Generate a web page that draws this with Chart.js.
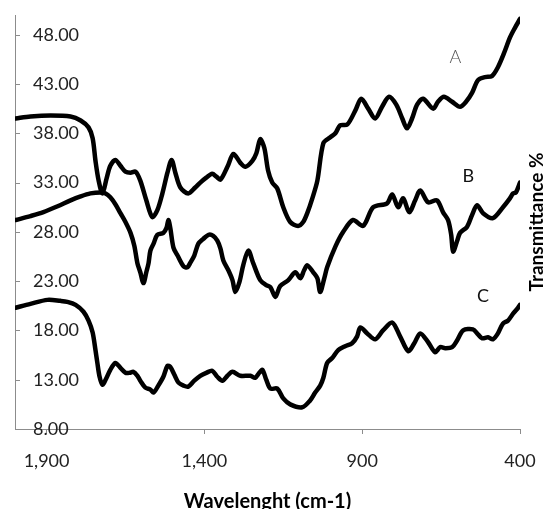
<!DOCTYPE html>
<html>
<head>
<meta charset="utf-8">
<script src="https://cdn.jsdelivr.net/npm/chart.js@4"></script>
<style>
  html, body { margin: 0; padding: 0; background: #fff; }
  #wrap { width: 543px; height: 509px; }
</style>
</head>
<body>
<div id="wrap"><canvas id="c" width="543" height="509"></canvas></div>
<script>
// ---- data (wavenumber in cm-1, transmittance %) ----
const waveA = [1998,1951,1887,1824,1792,1767,1754,1745,1735,1723,1710,1698,1682,1666,1650,1634,1618,1603,1584,1565,1549,1533,1517,1504,1492,1476,1451,1429,1413,1394,1375,1362,1349,1327,1308,1286,1270,1248,1235,1223,1210,1198,1185,1169,1150,1128,1103,1087,1074,1058,1042,1023,1001,985,970,947,922,903,881,859,837,815,792,773,758,742,726,707,675,660,641,615,590,571,552,533,511,489,470,451,432,416,400];
const transA = [39.5,39.7,39.8,39.7,39.3,38.6,37.5,35.2,33.2,31.9,33.4,34.7,35.3,34.7,34.1,34.0,34.1,33.2,31.2,29.5,30.2,31.9,34.0,35.3,34.0,32.5,31.9,32.5,33.0,33.5,33.9,33.6,33.3,34.6,35.9,35.0,34.6,35.2,36.0,37.4,36.5,34.2,33.0,32.4,30.5,29.0,28.6,29.0,29.9,31.4,33.2,37.0,37.6,38.0,38.8,38.9,40.3,41.5,40.5,39.5,40.7,41.7,40.9,39.5,38.5,39.5,40.9,41.5,40.5,41.2,41.7,41.2,40.7,41.2,42.1,43.4,43.7,43.8,44.7,46.1,47.7,48.7,49.6];

const waveB = [1998,1951,1910,1865,1824,1792,1761,1729,1713,1698,1682,1666,1650,1634,1622,1612,1603,1593,1584,1577,1571,1561,1549,1530,1520,1514,1508,1498,1485,1466,1454,1444,1432,1419,1403,1387,1372,1359,1349,1340,1324,1311,1302,1289,1277,1261,1245,1223,1204,1191,1175,1160,1134,1112,1096,1084,1074,1055,1042,1033,1020,1011,985,960,929,897,865,821,805,786,770,751,732,716,691,663,644,628,618,612,599,590,568,552,536,517,486,454,432,422,413,400];
const transB = [29.2,29.6,30.0,30.6,31.2,31.6,31.9,32.0,31.9,31.5,30.8,29.9,29.0,27.9,26.6,24.8,23.9,22.8,23.9,24.8,26.1,26.8,27.7,27.9,28.4,29.2,28.4,26.4,25.6,24.5,24.4,24.9,25.6,26.8,27.3,27.7,27.6,27.1,26.3,25.1,24.1,23.1,21.9,22.9,24.6,26.1,24.8,23.1,22.6,22.4,21.4,22.5,23.1,23.9,23.3,24.1,24.6,23.9,23.3,21.9,23.3,24.4,26.5,28.0,29.2,28.6,30.5,30.9,31.8,30.5,31.4,30.0,31.2,32.2,31.0,31.2,30.0,29.2,27.7,26.0,27.1,27.9,28.5,29.7,30.7,29.9,29.4,30.5,31.4,31.9,32.0,33.0];

const waveC = [1998,1951,1897,1856,1834,1808,1783,1767,1754,1745,1739,1732,1723,1713,1698,1682,1666,1650,1637,1625,1612,1603,1587,1571,1561,1546,1530,1517,1508,1495,1482,1466,1451,1432,1413,1394,1375,1359,1343,1327,1311,1286,1254,1239,1226,1216,1204,1191,1169,1150,1128,1090,1065,1049,1033,1023,1011,995,976,954,932,916,906,884,859,834,805,780,754,735,716,691,669,653,637,615,599,580,549,533,520,501,486,470,454,438,422,406,400];
const transC = [20.3,20.7,21.1,21.0,20.9,20.6,19.9,19.0,17.8,16.0,14.7,13.3,12.5,13.0,14.0,14.7,14.2,13.7,13.7,13.8,13.4,12.9,12.2,12.0,11.7,12.4,13.3,14.4,14.3,13.5,12.7,12.4,12.3,12.9,13.4,13.7,13.9,13.3,12.9,13.4,13.8,13.4,13.4,13.2,13.7,14.0,13.0,12.1,12.1,11.1,10.5,10.2,10.9,11.7,12.4,13.2,14.7,15.2,16.0,16.4,16.7,17.4,18.3,17.7,17.1,18.0,18.8,17.4,15.9,16.7,17.7,16.8,15.8,16.3,16.2,16.3,17.0,18.0,18.1,17.6,17.2,17.3,17.1,17.7,18.7,19.0,19.7,20.3,20.6];

const seriesNames = ["A", "B", "C"];
const xTicks = [1900, 1400, 900, 400];
const xTickLabels = ["1,900", "1,400", "900", "400"];
const yTicks = [8, 13, 18, 23, 28, 33, 38, 43, 48];
const xTitle = "Wavelenght (cm-1)";
const yTitle = "Transmittance %";

// label anchors for curve names, in data units
const nameAnchors = [[605, 45.7], [564, 33.6], [517, 21.5]];

const FONT = "Lato, 'Open Sans', sans-serif";
const AXIS = "#8c8c8c";

function pts(w, t) { return w.map((v, i) => ({ x: v, y: t[i] })); }

const mkDs = (label, data) => ({
  label, data,
  borderColor: "#000",
  borderWidth: 4.5,
  pointRadius: 0,
  tension: 0.3,
  fill: false,
  borderJoinStyle: "round",
  borderCapStyle: "round"
});

const overlay = {
  id: "overlay",
  afterDraw(chart) {
    const { ctx, chartArea, scales: { x, y } } = chart;
    ctx.save();
    // inward y tick marks
    ctx.strokeStyle = AXIS;
    ctx.lineWidth = 1;
    yTicks.forEach(v => {
      const py = Math.round(y.getPixelForValue(v)) + 0.5;
      ctx.beginPath();
      ctx.moveTo(chartArea.left, py);
      ctx.lineTo(chartArea.left + 5, py);
      ctx.stroke();
    });
    // curve names
    ctx.textAlign = "center";
    ctx.textBaseline = "middle";
    nameAnchors.forEach((a, i) => {
      ctx.font = (i === 0 ? "300 " : "") + "18px " + FONT;
      ctx.fillStyle = i === 0 ? "#555" : "#111";
      ctx.fillText(seriesNames[i], x.getPixelForValue(a[0]), y.getPixelForValue(a[1]));
    });
    // right-side y title, reading bottom to top
    ctx.translate(537, (chartArea.top + chartArea.bottom) / 2);
    ctx.rotate(-Math.PI / 2);
    ctx.font = "bold 19px " + FONT;
    ctx.fillStyle = "#000";
    ctx.fillText(yTitle, 0, 0);
    ctx.restore();
  }
};

new Chart(document.getElementById("c"), {
  type: "line",
  data: {
    datasets: [
      mkDs(seriesNames[0], pts(waveA, transA)),
      mkDs(seriesNames[1], pts(waveB, transB)),
      mkDs(seriesNames[2], pts(waveC, transC))
    ]
  },
  options: {
    responsive: false,
    animation: false,
    devicePixelRatio: 1,
    layout: { padding: { left: 0, right: 23, top: 15, bottom: 0 } },
    plugins: { legend: { display: false }, tooltip: { enabled: false } },
    scales: {
      x: {
        type: "linear",
        reverse: true,
        min: 400,
        max: 2000,
        afterBuildTicks: s => { s.ticks = xTicks.map(v => ({ value: v })); },
        afterFit: s => { s.height = 80; s.paddingLeft = 0; s.paddingRight = 0; },
        grid: { display: true, drawOnChartArea: false, drawTicks: true, tickLength: 5, color: AXIS },
        border: { display: true, color: AXIS, width: 1 },
        ticks: {
          autoSkip: false, maxRotation: 0, minRotation: 0, padding: 16,
          color: "#222",
          font: { family: FONT, size: 18 },
          callback: v => { const i = xTicks.indexOf(v); return i >= 0 ? xTickLabels[i] : ""; }
        },
        title: {
          display: true, text: xTitle, color: "#000",
          font: { family: FONT, size: 20, weight: "bold" },
          padding: { top: 0, bottom: -5 }
        }
      },
      y: {
        type: "linear",
        min: 8,
        max: 50,
        afterBuildTicks: s => { s.ticks = yTicks.map(v => ({ value: v })); },
        afterFit: s => { s.width = 15; s.paddingTop = 0; s.paddingBottom = 0; },
        grid: { display: false },
        border: { display: true, color: AXIS, width: 1 },
        ticks: {
          mirror: true, padding: 18,
          color: "#222",
          font: { family: FONT, size: 18 },
          callback: v => Number(v).toFixed(2)
        }
      }
    }
  },
  plugins: [overlay]
});
</script>
</body>
</html>
